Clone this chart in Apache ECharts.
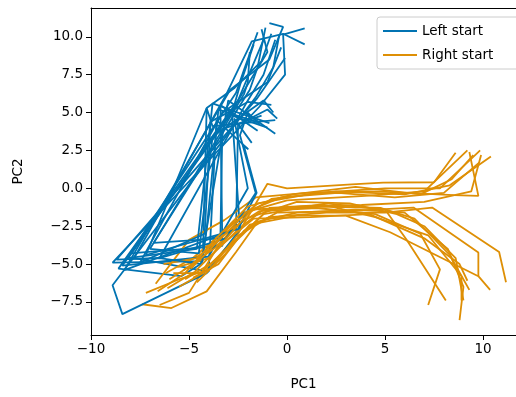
<!DOCTYPE html>
<html>
<head>
<meta charset="utf-8">
<script src="https://cdn.jsdelivr.net/npm/echarts@6/dist/echarts.min.js"></script>
<style>html,body{margin:0;padding:0;background:#fff}#c{width:516px;height:397px}</style>
</head>
<body>
<div id="c"></div>
<script>
// Trajectories in (PC1, PC2) space
const leftStartPaths = [
  [[0.9,10.55],[-0.2,10.15],[-0.1,7.5],[-1.4,5.4],[-8.9,-4.9],[-4.3,-4.8],[-4.1,5.3],[-3.8,4.1],[-0.6,4.5]],
  [[-0.9,10.9],[-0.2,10.65],[-0.9,8.5],[-2.9,6.5],[-8.3,-5.4],[-2.6,-2.7],[-2.5,4.2],[-1.0,5.2],[-0.5,4.6]],
  [[0.9,9.5],[-0.2,10.2],[-1.8,9.7],[-3.1,6.2],[-7.8,-4.6],[-4.0,-5.5],[-3.6,4.5],[-2.0,2.6]],
  [[-1.3,10.5],[-1.0,9.0],[-2.4,6.0],[-8.6,-5.3],[-5.4,-5.8],[-4.4,-5.0],[-3.0,5.8],[-0.6,3.6]],
  [[-1.5,10.3],[-2.2,7.8],[-2.6,6.3],[-8.0,-4.3],[-3.3,-3.8],[-3.4,5.5],[-1.5,3.8]],
  [[-1.1,10.6],[-1.5,8.0],[-1.9,6.5],[-7.0,-4.0],[-4.5,-4.3],[-3.8,3.4],[-1.2,5.8],[-0.7,5.0]],
  [[-0.4,10.1],[-0.7,8.0],[-1.6,6.0],[-8.9,-6.4],[-8.4,-8.3],[-4.1,-5.6],[-2.4,-2.7],[-2.8,4.8],[-1.0,4.0]],
  [[-0.6,9.8],[-1.2,7.5],[-2.0,5.8],[-6.5,-4.6],[-3.1,-3.3],[-1.6,-0.3],[-2.4,3.5],[-2.0,5.0],[-1.4,4.2]],
  [[-1.7,9.5],[-2.4,6.8],[-2.8,5.0],[-8.4,-5.1],[-4.0,-4.5],[-2.0,0.0],[-2.7,4.6],[-1.8,3.0]],
  [[-0.3,9.3],[-1.0,7.0],[-3.3,5.0],[-7.5,-4.9],[-4.2,-3.0],[-3.9,4.4],[-2.0,5.7],[-0.8,5.5]],
  [[-1.9,9.0],[-2.0,7.0],[-2.2,6.2],[-6.8,-3.6],[-3.4,-3.3],[-3.3,3.9],[-1.3,4.8]],
  [[-1.2,9.8],[-2.6,5.5],[-8.1,-4.6],[-4.6,-4.0],[-3.8,5.6],[-2.5,5.0],[-0.9,4.3]],
  [[-0.1,8.6],[-1.55,5.9],[-8.7,-4.7],[-6.5,-4.6],[-4.35,-5.0],[-4.1,-2.7],[-3.5,5.2],[-1.6,4.4]],
  [[-0.8,10.2],[-1.3,8.4],[-2.7,6.6],[-4.1,5.3],[-7.2,-4.4],[-2.5,-2.7],[-1.55,-0.3],[-2.2,2.8],[-1.97,2.57]]
];
const rightStartPaths = [
  [[-7.2,-6.9],[-5.5,-6.0],[-4.1,-5.4],[-2.5,-3.0],[-1.0,0.3],[0,0],[3.3,0.26],[4.9,0.37],[7.5,0.4],[8.6,2.35]],
  [[-7.4,-7.65],[-5.9,-7.9],[-4.1,-6.8],[-2.6,-4.2],[-1.5,-2.2],[0.5,-1.6],[3.5,-1.4],[6.0,-1.6],[8.2,-4.0],[9.0,-6.5],[8.8,-8.7]],
  [[-6.5,-7.7],[-5.0,-6.9],[-3.6,-4.0],[-2.2,-1.6],[0,-0.8],[4.0,-0.5],[7.0,-0.2],[9.2,2.5]],
  [[-6.7,-6.3],[-5.0,-3.4],[-3.2,-2.1],[-1.6,-0.6],[1.0,-0.3],[4.5,-0.2],[8.5,-0.45],[9.76,-0.5],[9.3,2.4]],
  [[-6.2,-5.6],[-4.8,-4.6],[-3.0,-2.6],[-1.5,-1.0],[1.5,-0.3],[5.0,0.0],[7.8,0.0],[9.85,2.5]],
  [[-5.6,-5.2],[-4.0,-4.6],[-2.4,-2.6],[-1.2,-1.4],[1.8,-1.2],[4.8,-1.3],[6.5,-2.0],[8.3,-4.4],[9.3,-6.7]],
  [[-5.0,-4.8],[-3.6,-3.8],[-2.1,-2.0],[0.5,-0.9],[3.2,-1.0],[5.6,-1.7],[7.0,-2.5],[8.6,-4.6],[9.0,-7.4]],
  [[-6.0,-6.0],[-4.3,-4.6],[-2.8,-2.3],[-0.8,-0.7],[2.5,-0.2],[6.0,-0.4],[8.3,0.2],[10.4,2.1]],
  [[-4.8,-5.9],[-3.5,-5.0],[-2.2,-2.8],[-0.5,-1.6],[3.0,-1.5],[6.45,-1.27],[9.76,-4.24],[9.76,-5.78]],
  [[-5.5,-6.5],[-3.9,-5.3],[-2.6,-3.2],[-0.9,-1.9],[2.0,-1.6],[5.0,-1.6],[7.4,-1.27],[10.82,-4.2],[11.17,-6.2]],
  [[-4.6,-6.2],[-3.2,-4.4],[-1.9,-2.4],[0.5,-1.8],[3.0,-1.8],[5.26,-2.9],[9.76,-5.8],[10.36,-6.7]],
  [[-6.3,-5.0],[-4.6,-4.6],[-3.1,-2.9],[-1.4,-1.5],[1.5,-1.3],[4.5,-1.7],[6.8,-3.0],[7.8,-5.35],[7.2,-7.7]],
  [[-5.8,-5.6],[-4.4,-5.6],[-2.7,-3.5],[-1.2,-1.7],[2.0,-1.0],[5.0,-1.4],[6.1,-3.4],[8.1,-7.4]],
  [[-5.2,-6.0],[-3.8,-4.9],[-2.3,-3.1],[-0.9,-1.3],[1.9,-1.1],[4.5,-1.9],[7.2,-3.1],[8.9,-5.8],[8.9,-7.4]],
  [[-4.9,-5.3],[-3.6,-3.6],[-2.0,-1.5],[-0.3,-0.6],[2.6,-0.3],[5.5,-0.6],[8.0,-0.3],[9.8,1.7]],
  [[-6.6,-6.8],[-5.2,-5.6],[-3.7,-3.4],[-2.0,-1.2],[0.3,-0.4],[3.5,0.1],[6.8,-0.4],[8.4,0.6],[9.5,2.2]],
  [[-5.3,-5.4],[-3.3,-3.6],[-1.8,-1.4],[0.8,-1.2],[3.8,-1.1],[7.0,-0.9],[9.4,-0.2],[9.9,2.2]],
  [[-6.1,-6.6],[-4.7,-5.5],[-3.4,-3.8],[-1.7,-2.0],[1.2,-1.9],[4.2,-1.7],[7.0,-3.3],[8.8,-5.0],[9.2,-6.1]]
];
const xTicks = [-10, -5, 0, 5, 10];
const yTicks = [-7.5, -5, -2.5, 0, 2.5, 5, 7.5, 10];
const seriesNames = ['Left start', 'Right start'];
const seriesColors = ['#0173b2', '#de8f05'];

const font = 'DejaVu Sans';
const minus = s => String(s).replace('-', '\u2212');

const series = [];
const n = Math.max(leftStartPaths.length, rightStartPaths.length);
function mk(name, color, data) {
  return { name, type: 'line', data, symbol: 'none', showSymbol: false, animation: false,
    xAxisIndex: 0, yAxisIndex: 0,
    color, itemStyle: { color }, lineStyle: { color, width: 1.8 }, z: 2, emphasis: { disabled: true } };
}
for (let i = 0; i < n; i++) {
  if (i < leftStartPaths.length) series.push(mk(seriesNames[0], seriesColors[0], leftStartPaths[i]));
  if (i < rightStartPaths.length) series.push(mk(seriesNames[1], seriesColors[1], rightStartPaths[i]));
}

const chart = echarts.init(document.getElementById('c'), null, { renderer: 'canvas' });
chart.setOption({
  animation: false,
  backgroundColor: '#fff',
  textStyle: { fontFamily: font },
  grid: { left: 91, top: 8, right: 0, bottom: 62, show: false, containLabel: false },
  legend: {
    data: seriesNames,
    orient: 'vertical', left: 377, top: 17,
    icon: 'rect',
    itemWidth: 34, itemHeight: 2, itemGap: 8,
    padding: [6, 30, 6, 6],
    borderColor: '#cccccc', borderWidth: 1, borderRadius: 3,
    backgroundColor: 'rgba(255,255,255,0.8)',
    textStyle: { fontFamily: font, fontSize: 13.5, color: '#000', lineHeight: 16 },
    selectedMode: false
  },
  xAxis: [{
    type: 'value', min: -10, max: 11.68, position: 'bottom',
    name: 'PC1', nameLocation: 'middle', nameGap: 42,
    nameTextStyle: { fontFamily: font, fontSize: 13.5, color: '#000' },
    axisLine: { show: true, onZero: false, lineStyle: { color: '#000', width: 1 } },
    axisTick: { show: true, length: 5, customValues: xTicks, lineStyle: { color: '#000', width: 1 } },
    axisLabel: { customValues: xTicks, margin: 7, fontFamily: font, fontSize: 13.5, color: '#000', formatter: v => minus(v) },
    splitLine: { show: false }
  }, {
    type: 'value', min: -10, max: 11.68, position: 'top',
    axisLine: { show: true, onZero: false, lineStyle: { color: '#000', width: 1 } },
    axisTick: { show: false }, axisLabel: { show: false }, splitLine: { show: false }
  }],
  yAxis: {
    type: 'value', min: -9.68, max: 11.9,
    name: 'PC2', nameLocation: 'middle', nameGap: 66,
    nameTextStyle: { fontFamily: font, fontSize: 13.5, color: '#000' },
    axisLine: { show: true, onZero: false, lineStyle: { color: '#000', width: 1 } },
    axisTick: { show: true, length: 5, customValues: yTicks, lineStyle: { color: '#000', width: 1 } },
    axisLabel: { customValues: yTicks, margin: 8, fontFamily: font, fontSize: 13.5, color: '#000', formatter: v => minus(Number(v).toFixed(1)) },
    splitLine: { show: false }
  },
  series
});
</script>
</body>
</html>
